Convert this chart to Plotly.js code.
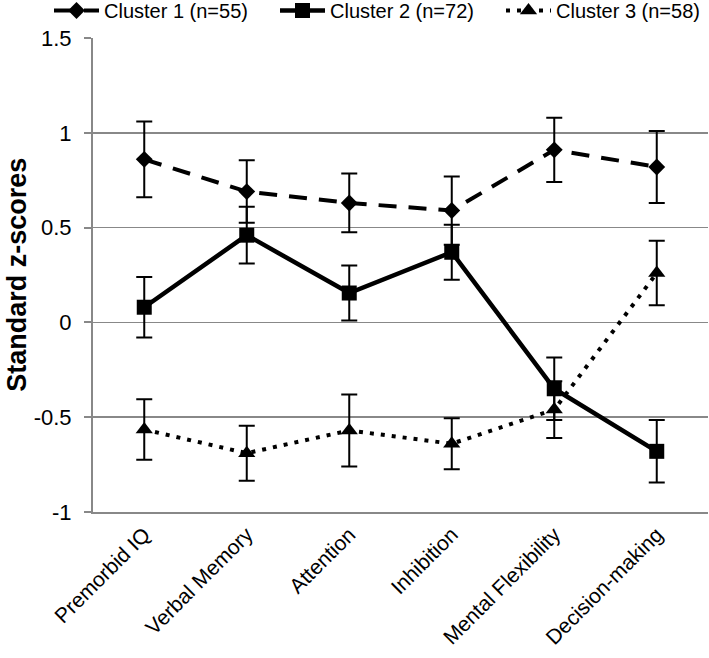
<!DOCTYPE html>
<html>
<head>
<meta charset="utf-8">
<script src="https://cdn.plot.ly/plotly-3.0.1.min.js"></script>
<style>html,body{margin:0;padding:0;background:#fff;overflow:hidden;}#chart{width:780px;height:658px;}</style>
</head>
<body>
<div id="chart"></div>
<script>
var categories = ['Premorbid IQ', 'Verbal Memory', 'Attention', 'Inhibition', 'Mental Flexibility', 'Decision-making'];
var seriesNames = ['Cluster 1 (n=55)', 'Cluster 2 (n=72)', 'Cluster 3 (n=58)'];
var cluster1 = [0.86, 0.69, 0.63, 0.59, 0.91, 0.82];
var cluster1Err = [0.20, 0.165, 0.155, 0.18, 0.17, 0.19];
var cluster2 = [0.08, 0.46, 0.155, 0.37, -0.35, -0.68];
var cluster2Err = [0.16, 0.15, 0.145, 0.145, 0.165, 0.165];
var cluster3 = [-0.565, -0.69, -0.57, -0.64, -0.46, 0.26];
var cluster3Err = [0.16, 0.145, 0.19, 0.135, 0.15, 0.17];
var yTickVals = [-1, -0.5, 0, 0.5, 1, 1.5];
var yTickText = ['-1', '-0.5', '0', '0.5', '1', '1.5'];

var FONT = 'Liberation Sans, Arial, sans-serif';
function errStyle(arr) {
  return {type: 'data', array: arr, visible: true, color: '#000', thickness: 2, width: 8};
}
var traces = [
  {x: categories, y: cluster1, name: seriesNames[0], type: 'scatter', mode: 'lines+markers',
   line: {color: '#000', width: 4, dash: '18px,12px'},
   marker: {symbol: 'diamond', size: 13, color: '#000'},
   error_y: errStyle(cluster1Err)},
  {x: categories, y: cluster2, name: seriesNames[1], type: 'scatter', mode: 'lines+markers',
   line: {color: '#000', width: 4.5},
   marker: {symbol: 'square', size: 15, color: '#000'},
   error_y: errStyle(cluster2Err)},
  {x: categories, y: cluster3, name: seriesNames[2], type: 'scatter', mode: 'lines+markers',
   line: {color: '#000', width: 4, dash: '4px,7px'},
   marker: {symbol: 'triangle-up', size: 15, color: '#000'},
   error_y: errStyle(cluster3Err)}
];

// paper is 780 wide (page shows 709); plot area spans x 93..708, y 38..512
var PLOT_W = 615, PLOT_H = 474, TOP = 38;
var layout = {
  width: 780, height: 658,
  margin: {l: 93, r: 72, t: TOP, b: 146, pad: 0, autoexpand: false},
  paper_bgcolor: '#fff', plot_bgcolor: '#fff',
  font: {family: FONT, size: 21, color: '#000'},
  showlegend: true,
  legend: {orientation: 'h', x: -44 / PLOT_W, xanchor: 'left', y: 1 + (TOP + 9) / PLOT_H, yanchor: 'top',
           itemwidth: 45, entrywidth: 166, entrywidthmode: 'pixels',
           font: {family: FONT, size: 20, color: '#000'}, bgcolor: 'rgba(0,0,0,0)', traceorder: 'normal'},
  xaxis: {
    type: 'category', range: [-0.5, 5.5], showgrid: false, zeroline: false,
    showline: true, linecolor: '#888', linewidth: 2, ticks: '', tickangle: -45,
    tickfont: {family: FONT, size: 21, color: '#000'}
  },
  yaxis: {
    range: [-1, 1.5], tickvals: yTickVals, ticktext: yTickText,
    showgrid: true, gridcolor: '#888', gridwidth: 1.5, zeroline: false,
    showline: true, linecolor: '#888', linewidth: 2,
    ticks: 'outside', ticklen: 7, tickwidth: 2, tickcolor: '#888',
    ticklabelstandoff: 8,
    tickfont: {family: FONT, size: 22, color: '#000'}
  },
  annotations: [{
    text: '<b>Standard z-scores</b>', xref: 'paper', yref: 'paper',
    x: -0.124, y: 0.5, xanchor: 'center', yanchor: 'middle', textangle: -90,
    showarrow: false, font: {family: FONT, size: 27, color: '#000'}
  }]
};

Plotly.newPlot('chart', traces, layout, {displayModeBar: false, staticPlot: true});
</script>
</body>
</html>
